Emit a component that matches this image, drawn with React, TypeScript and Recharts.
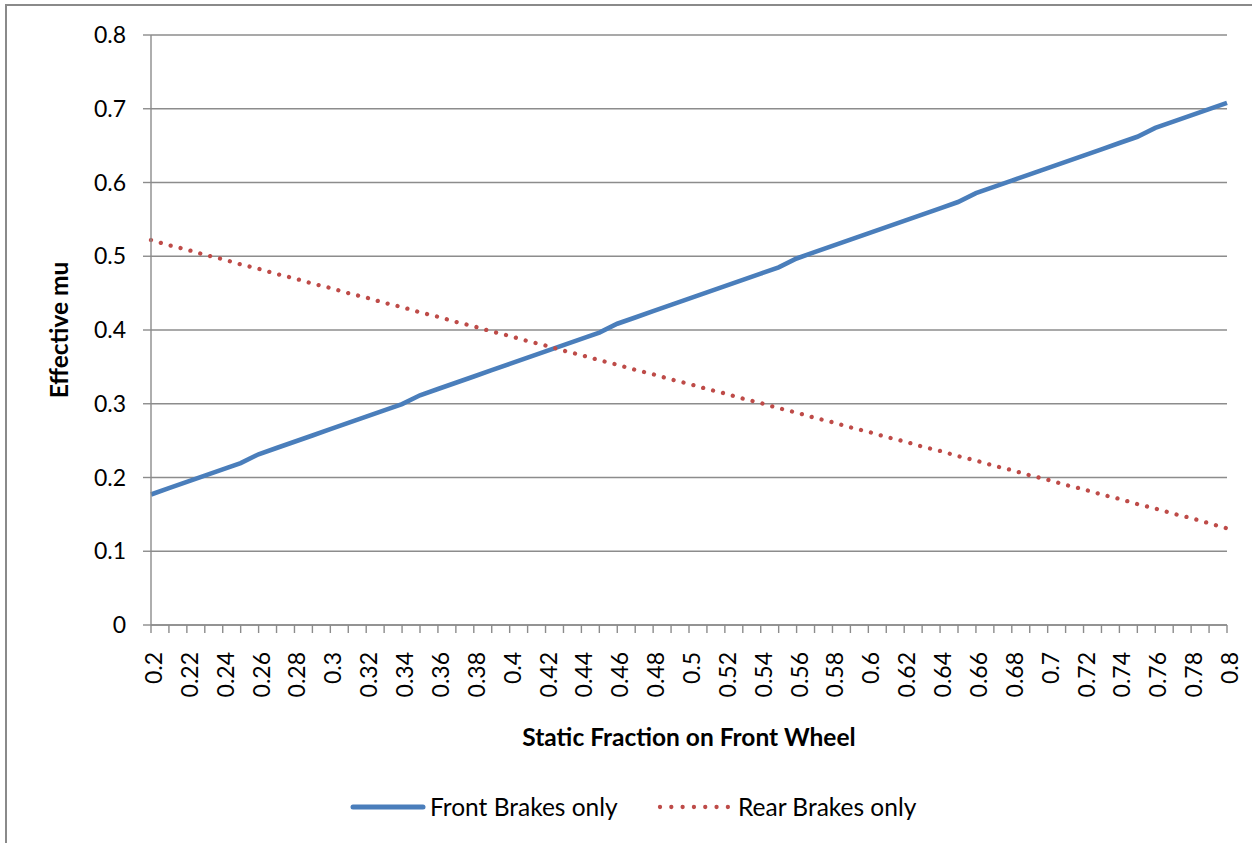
import { LineChart, Line, XAxis, YAxis, CartesianGrid, Legend } from "recharts";

// static fraction of weight on the front wheel (category axis)
const fractions = [
  0.2, 0.21, 0.22, 0.23, 0.24, 0.25, 0.26, 0.27, 0.28, 0.29,
  0.3, 0.31, 0.32, 0.33, 0.34, 0.35, 0.36, 0.37, 0.38, 0.39,
  0.4, 0.41, 0.42, 0.43, 0.44, 0.45, 0.46, 0.47, 0.48, 0.49,
  0.5, 0.51, 0.52, 0.53, 0.54, 0.55, 0.56, 0.57, 0.58, 0.59,
  0.6, 0.61, 0.62, 0.63, 0.64, 0.65, 0.66, 0.67, 0.68, 0.69,
  0.7, 0.71, 0.72, 0.73, 0.74, 0.75, 0.76, 0.77, 0.78, 0.79,
  0.8,
];

// effective mu, front brakes only
const frontOnly = [
  0.177, 0.1855, 0.194, 0.2025, 0.211, 0.2195, 0.2315, 0.24, 0.2485, 0.257,
  0.2655, 0.274, 0.2825, 0.291, 0.2995, 0.3115, 0.32, 0.3285, 0.337, 0.3455,
  0.354, 0.3625, 0.371, 0.3795, 0.388, 0.3965, 0.4085, 0.417, 0.4255, 0.434,
  0.4425, 0.451, 0.4595, 0.468, 0.4765, 0.485, 0.497, 0.5055, 0.514, 0.5225,
  0.531, 0.5395, 0.548, 0.5565, 0.565, 0.5735, 0.5855, 0.594, 0.6025, 0.611,
  0.6195, 0.628, 0.6365, 0.645, 0.6535, 0.662, 0.674, 0.6825, 0.691, 0.6995,
  0.708,
];

// effective mu, rear brakes only
const rearOnly = [
  0.522, 0.515, 0.509, 0.502, 0.496, 0.489, 0.483, 0.476, 0.47, 0.463,
  0.457, 0.45, 0.444, 0.437, 0.431, 0.424, 0.418, 0.411, 0.405, 0.398,
  0.392, 0.385, 0.379, 0.372, 0.366, 0.359, 0.353, 0.346, 0.34, 0.333,
  0.327, 0.32, 0.314, 0.307, 0.301, 0.294, 0.288, 0.281, 0.275, 0.268,
  0.262, 0.255, 0.249, 0.242, 0.236, 0.229, 0.223, 0.216, 0.21, 0.203,
  0.197, 0.19, 0.184, 0.177, 0.171, 0.164, 0.158, 0.151, 0.145, 0.138,
  0.131,
];

const muTicks = [0, 0.1, 0.2, 0.3, 0.4, 0.5, 0.6, 0.7, 0.8];

const FONT = "Lato, 'Open Sans', sans-serif";
const BLUE = "#4A7EBB";
const RED = "#BE4B48";
const GRID = "#8c8c8c";

const data = fractions.map((f, i) => ({
  f: String(f),
  front: frontOnly[i],
  rear: rearOnly[i],
}));

// every category gets a tick mark, only every other one a label
function FractionTick(props: any) {
  const { x, y, payload, index } = props;
  if (index % 2 !== 0) return <g />;
  return (
    <text
      transform={`translate(${x + 2},${y + 17}) rotate(-90)`}
      textAnchor="end"
      dominantBaseline="central"
      fontSize={23}
      fontFamily={FONT}
      fill="#000"
    >
      {payload.value}
    </text>
  );
}

function LegendRow() {
  return (
    <div style={{ position: "relative", width: 1252, height: 34, fontFamily: FONT, fontSize: 24.5, color: "#000" }}>
      <svg style={{ position: "absolute", left: 350, top: 0 }} width={76} height={34}>
        <line x1={3} y1={17} x2={73} y2={17} stroke={BLUE} strokeWidth={5} strokeLinecap="round" />
      </svg>
      <span style={{ position: "absolute", left: 430, top: 0, lineHeight: "34px", whiteSpace: "nowrap" }}>
        Front Brakes only
      </span>
      <svg style={{ position: "absolute", left: 656, top: 0 }} width={76} height={34}>
        <line x1={4} y1={17} x2={72} y2={17} stroke={RED} strokeWidth={4.3} strokeLinecap="round" strokeDasharray="0.01 11.3" />
      </svg>
      <span style={{ position: "absolute", left: 738, top: 0, lineHeight: "34px", whiteSpace: "nowrap" }}>
        Rear Brakes only
      </span>
    </div>
  );
}

export default function App() {
  return (
    <div style={{ position: "absolute", left: 0, top: 0, width: 1252, height: 843, overflow: "hidden", background: "#fff" }}>
      <div
        style={{
          position: "absolute",
          left: 5,
          top: 4,
          width: 1300,
          height: 900,
          border: "2px solid #8a8a8a",
          boxSizing: "border-box",
        }}
      />
      <LineChart
        width={1252}
        height={843}
        data={data}
        margin={{ top: 35, right: 25, left: 0, bottom: 0 }}
        style={{ position: "absolute", left: 0, top: 0 }}
      >
        <CartesianGrid horizontal vertical={false} stroke={GRID} strokeWidth={1.4} />
        <XAxis
          dataKey="f"
          interval={0}
          height={218}
          tickSize={8}
          tickMargin={2}
          stroke={GRID}
          strokeWidth={1.4}
          tickLine={{ stroke: GRID, strokeWidth: 1.4 }}
          tick={<FractionTick />}
          label={{
            content: ({ viewBox }: any) => (
              <text
                x={viewBox.x + viewBox.width / 2}
                y={viewBox.y + 111}
                textAnchor="middle"
                dominantBaseline="central"
                fontSize={24.5}
                fontWeight="bold"
                fontFamily={FONT}
                fill="#000"
              >
                Static Fraction on Front Wheel
              </text>
            ),
          }}
        />
        <YAxis
          type="number"
          domain={[0, 0.8]}
          ticks={muTicks}
          width={151}
          tickSize={8}
          tickMargin={17}
          stroke={GRID}
          strokeWidth={1.4}
          tickLine={{ stroke: GRID, strokeWidth: 1.4 }}
          tick={{ fontSize: 23, fill: "#000", fontFamily: FONT }}
          tickFormatter={(v: number) => String(v)}
          label={{
            content: ({ viewBox }: any) => (
              <text
                transform={`translate(${viewBox.x + 58},${viewBox.y + viewBox.height / 2}) rotate(-90)`}
                textAnchor="middle"
                dominantBaseline="central"
                fontSize={24.5}
                fontWeight="bold"
                fontFamily={FONT}
                fill="#000"
              >
                Effective mu
              </text>
            ),
          }}
        />
        <Legend
          verticalAlign="middle"
          align="center"
          layout="horizontal"
          wrapperStyle={{ top: 790, left: 0, width: 1252 }}
          content={() => <LegendRow />}
        />
        <Line
          type="linear"
          dataKey="front"
          name="Front Brakes only"
          stroke={BLUE}
          strokeWidth={4.6}
          dot={false}
          activeDot={false}
          isAnimationActive={false}
        />
        <Line
          type="linear"
          dataKey="rear"
          name="Rear Brakes only"
          stroke={RED}
          strokeWidth={4.3}
          strokeLinecap="round"
          strokeDasharray="0.01 10.2"
          dot={false}
          activeDot={false}
          isAnimationActive={false}
        />
      </LineChart>
    </div>
  );
}
